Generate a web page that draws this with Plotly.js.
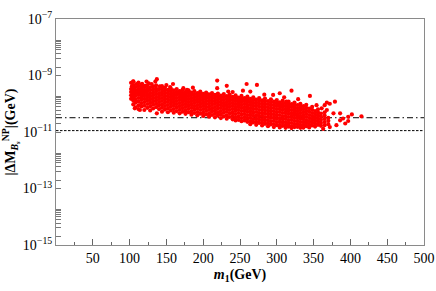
<!DOCTYPE html>
<html>
<head>
<meta charset="utf-8">
<script src="https://cdn.plot.ly/plotly-3.0.1.min.js"></script>
<style>html,body{margin:0;padding:0;background:#fff;}#chart{width:436px;height:291px;}</style>
</head>
<body>
<div id="chart"></div>
<script>
// ---- data ----
// dense band of scan points: m1 (GeV) columns and the |ΔM_Bs^NP| (GeV) values read in each column
const m1Columns = [102,105,108,112,116,120,124,128,132,136,140,144,148,152,156,160,164,168,172,176,180,184,188,192,196,200,204,208,212,216,220,224,228,232,236,240,244,248,252,256,260,264,268,272,276,280,284,288,292,296,300,304,308,312,316,320,324,328,332,336,340,344,348,352,356,360,365,370];
const dMColumns = [
 [5.5e-10,3.3e-10,2.6e-10,2.0e-10,1.5e-10],
 [6.2e-10,4.6e-10,3.6e-10,2.8e-10,2.2e-10,1.7e-10,1.3e-10,9.5e-11],
 [3.9e-10,3.0e-10,2.4e-10,1.9e-10,1.4e-10,1.1e-10,7.5e-11],
 [5.6e-10,4.3e-10,3.4e-10,2.7e-10,2.1e-10,1.6e-10,1.2e-10,8.8e-11,6.5e-11],
 [4.7e-10,3.7e-10,2.9e-10,2.3e-10,1.8e-10,1.4e-10,1.05e-10,8.0e-11],
 [4.0e-10,3.1e-10,2.5e-10,1.95e-10,1.5e-10,1.15e-10,8.5e-11,6.0e-11],
 [4.4e-10,3.4e-10,2.7e-10,2.1e-10,1.65e-10,1.3e-10,9.8e-11,7.2e-11],
 [3.8e-10,3.0e-10,2.3e-10,1.8e-10,1.4e-10,1.08e-10,8.2e-11,5.8e-11],
 [4.1e-10,3.2e-10,2.5e-10,2.0e-10,1.55e-10,1.2e-10,9.2e-11,6.8e-11],
 [4.5e-10,3.5e-10,2.8e-10,2.2e-10,1.7e-10,1.32e-10,1.0e-10,7.6e-11],
 [3.1e-10,2.4e-10,1.9e-10,1.48e-10,1.15e-10,8.8e-11,6.5e-11],
 [4.2e-10,3.3e-10,2.6e-10,2.05e-10,1.6e-10,1.25e-10,9.6e-11,7.2e-11,5.2e-11],
 [3.7e-10,2.9e-10,2.3e-10,1.8e-10,1.4e-10,1.08e-10,8.3e-11,6.2e-11],
 [3.1e-10,2.45e-10,1.92e-10,1.5e-10,1.17e-10,9.0e-11,6.8e-11,5.0e-11],
 [3.5e-10,2.75e-10,2.15e-10,1.7e-10,1.32e-10,1.02e-10,7.8e-11,5.8e-11],
 [3.0e-10,2.35e-10,1.85e-10,1.45e-10,1.12e-10,8.6e-11,6.5e-11,4.8e-11],
 [3.3e-10,2.6e-10,2.05e-10,1.6e-10,1.25e-10,9.7e-11,7.4e-11,5.5e-11],
 [2.8e-10,2.2e-10,1.75e-10,1.37e-10,1.06e-10,8.2e-11,6.1e-11,4.6e-11],
 [3.1e-10,2.45e-10,1.95e-10,1.52e-10,1.18e-10,9.1e-11,7.0e-11,5.2e-11],
 [2.65e-10,2.1e-10,1.65e-10,1.28e-10,1.0e-10,7.7e-11,5.8e-11,4.4e-11],
 [3.0e-10,2.35e-10,1.85e-10,1.45e-10,1.13e-10,8.7e-11,6.6e-11,5.0e-11],
 [2.5e-10,2.0e-10,1.55e-10,1.22e-10,9.4e-11,7.2e-11,5.4e-11,4.1e-11],
 [2.8e-10,2.2e-10,1.75e-10,1.37e-10,1.07e-10,8.2e-11,6.3e-11,4.7e-11],
 [2.4e-10,1.9e-10,1.48e-10,1.16e-10,8.9e-11,6.8e-11,5.1e-11,3.9e-11],
 [2.7e-10,2.1e-10,1.65e-10,1.3e-10,1.01e-10,7.8e-11,6.0e-11,4.5e-11],
 [2.25e-10,1.78e-10,1.4e-10,1.09e-10,8.4e-11,6.5e-11,4.9e-11,3.7e-11],
 [2.5e-10,2.0e-10,1.57e-10,1.23e-10,9.6e-11,7.4e-11,5.6e-11,4.2e-11],
 [2.15e-10,1.7e-10,1.33e-10,1.04e-10,8.0e-11,6.1e-11,4.6e-11,3.5e-11],
 [2.4e-10,1.9e-10,1.5e-10,1.17e-10,9.1e-11,7.0e-11,5.3e-11,4.0e-11],
 [2.05e-10,1.62e-10,1.27e-10,9.9e-11,7.6e-11,5.8e-11,4.4e-11,3.3e-11],
 [2.3e-10,1.8e-10,1.42e-10,1.11e-10,8.6e-11,6.6e-11,5.0e-11,3.8e-11],
 [1.95e-10,1.54e-10,1.2e-10,9.4e-11,7.2e-11,5.5e-11,4.2e-11,3.1e-11],
 [2.2e-10,1.72e-10,1.35e-10,1.05e-10,8.2e-11,6.3e-11,4.8e-11,3.6e-11],
 [1.85e-10,1.45e-10,1.13e-10,8.8e-11,6.8e-11,5.2e-11,3.9e-11,2.95e-11],
 [2.1e-10,1.65e-10,1.29e-10,1.0e-10,7.8e-11,6.0e-11,4.6e-11,3.4e-11],
 [1.75e-10,1.38e-10,1.08e-10,8.4e-11,6.5e-11,4.9e-11,3.7e-11,2.8e-11],
 [2.0e-10,1.57e-10,1.23e-10,9.6e-11,7.4e-11,5.7e-11,4.3e-11,3.25e-11,2.55e-11],
 [1.66e-10,1.3e-10,1.02e-10,7.9e-11,6.1e-11,4.7e-11,3.5e-11,2.7e-11],
 [1.9e-10,1.5e-10,1.18e-10,9.2e-11,7.1e-11,5.5e-11,4.15e-11,3.1e-11,2.4e-11],
 [1.58e-10,1.24e-10,9.7e-11,7.5e-11,5.8e-11,4.4e-11,3.35e-11,2.55e-11],
 [1.8e-10,1.42e-10,1.12e-10,8.7e-11,6.7e-11,5.2e-11,3.95e-11,3.0e-11,2.3e-11],
 [1.48e-10,1.16e-10,9.1e-11,7.0e-11,5.4e-11,4.1e-11,3.15e-11,2.4e-11,1.9e-11],
 [1.7e-10,1.34e-10,1.05e-10,8.2e-11,6.4e-11,4.9e-11,3.75e-11,2.85e-11,2.2e-11],
 [1.4e-10,1.1e-10,8.6e-11,6.6e-11,5.1e-11,3.9e-11,3.0e-11,2.3e-11,1.8e-11],
 [1.6e-10,1.27e-10,1.0e-10,7.8e-11,6.0e-11,4.65e-11,3.55e-11,2.7e-11,2.1e-11],
 [1.32e-10,1.04e-10,8.1e-11,6.3e-11,4.8e-11,3.7e-11,2.8e-11,2.15e-11,1.7e-11],
 [1.52e-10,1.2e-10,9.4e-11,7.3e-11,5.6e-11,4.35e-11,3.3e-11,2.55e-11,1.95e-11],
 [1.25e-10,9.8e-11,7.6e-11,5.9e-11,4.5e-11,3.45e-11,2.65e-11,2.05e-11,1.6e-11],
 [1.44e-10,1.13e-10,8.9e-11,6.9e-11,5.3e-11,4.1e-11,3.15e-11,2.4e-11,1.85e-11],
 [1.18e-10,9.2e-11,7.1e-11,5.5e-11,4.25e-11,3.25e-11,2.5e-11,1.92e-11,1.5e-11],
 [1.36e-10,1.07e-10,8.4e-11,6.5e-11,5.0e-11,3.85e-11,2.95e-11,2.25e-11,1.75e-11],
 [1.11e-10,8.7e-11,6.7e-11,5.2e-11,4.0e-11,3.05e-11,2.35e-11,1.8e-11,1.45e-11],
 [1.28e-10,1.0e-10,7.9e-11,6.1e-11,4.7e-11,3.6e-11,2.8e-11,2.15e-11,1.65e-11],
 [1.05e-10,8.2e-11,6.35e-11,4.9e-11,3.75e-11,2.9e-11,2.2e-11,1.7e-11,1.4e-11],
 [1.2e-10,9.4e-11,7.4e-11,5.7e-11,4.4e-11,3.4e-11,2.6e-11,2.0e-11,1.55e-11],
 [9.8e-11,7.7e-11,5.95e-11,4.6e-11,3.55e-11,2.7e-11,2.08e-11,1.6e-11,1.38e-11],
 [1.1e-10,8.7e-11,6.8e-11,5.3e-11,4.1e-11,3.15e-11,2.45e-11,1.9e-11,1.5e-11],
 [9.0e-11,7.0e-11,5.4e-11,4.2e-11,3.25e-11,2.5e-11,1.95e-11,1.52e-11],
 [1.0e-10,7.9e-11,6.2e-11,4.8e-11,3.7e-11,2.9e-11,2.25e-11,1.75e-11,1.4e-11],
 [8.2e-11,6.4e-11,5.0e-11,3.85e-11,3.0e-11,2.3e-11,1.8e-11,1.42e-11],
 [9.2e-11,7.2e-11,5.6e-11,4.35e-11,3.4e-11,2.6e-11,2.05e-11,1.6e-11],
 [6.7e-11,5.2e-11,4.0e-11,3.1e-11,2.4e-11,1.85e-11,1.45e-11],
 [7.8e-11,6.1e-11,4.7e-11,3.65e-11,2.85e-11,2.2e-11,1.7e-11],
 [5.5e-11,4.3e-11,3.35e-11,2.6e-11,2.0e-11,1.55e-11],
 [6.4e-11,5.0e-11,3.9e-11,3.0e-11,2.35e-11,1.8e-11],
 [4.5e-11,3.5e-11,2.7e-11,2.1e-11,1.65e-11],
 [5.0e-11,3.8e-11,2.9e-11,2.25e-11,1.75e-11],
 [3.2e-11,2.5e-11,1.9e-11]
];
// isolated scan points around the band
const m1Scattered = [105,109,103,121,123,130,137,135,141,159,155,173,178,182,168,196,207,219,219,232,259,273,254,264,234,304,320,295,345,329,368,313,354,379,365,361,386,377,390,402,415,397,386,393,381,372,363,397,372,368,114,107,137,150,186,240,283,310,126,117];
const dMScattered = [6.1e-10,5.0e-10,4.1e-10,4.3e-10,6.1e-10,5.0e-10,7.4e-10,6.1e-10,4.1e-10,5.0e-10,3.9e-10,3.55e-10,3.1e-10,2.5e-10,2.7e-10,2.35e-10,2.05e-10,6.6e-10,3.55e-10,4.3e-10,5.0e-10,4.65e-10,2.9e-10,2.7e-10,2.7e-10,2.35e-10,2.9e-10,2.05e-10,1.9e-10,1.45e-10,1.1e-10,1.2e-10,8.9e-11,1.18e-10,8.9e-11,6.9e-11,4.6e-11,4.6e-11,3.0e-11,4.2e-11,3.6e-11,2.45e-11,2.6e-11,2.0e-11,1.75e-11,1.5e-11,1.3e-11,3.45e-11,1.0e-10,6.0e-11,6.0e-11,6.9e-11,4.6e-11,4.6e-10,3.7e-10,2.6e-10,2.1e-10,1.7e-10,5.3e-10,5.1e-10];
// horizontal reference levels (GeV)
const lineM1 = [0, 500];
const dashDotLevel = 3.2e-11;
const dashedLevel = 1.12e-11;
// axis ticks
const xTickVals = [50,100,150,200,250,300,350,400,450,500];
const xMinorVals = [25,75,125,175,225,275,325,375,425,475];
const yTickVals = [1e-15,1e-13,1e-11,1e-9,1e-7];
const yTickText = ['10<sup>\u221215</sup>','10<sup>\u221213</sup>','10<sup>\u221211</sup>','10<sup>\u22129</sup>','10<sup>\u22127</sup>'];
// unlabeled tick clusters seen on the reference's y axis: k x base, k = 1..9
const yMinorDigits = [1,2,3,4,5,6,7,8,9];
const yMinorBases = [2e-15,2e-13,2e-11,2e-9];

// ---- build tick lists and traces ----
const yAllVals = yTickVals.slice(), yAllText = yTickText.slice();
yMinorBases.forEach(function(b){ yMinorDigits.forEach(function(k){ yAllVals.push(k*b); yAllText.push(''); }); });

const xs = [], ys = [];
m1Columns.forEach(function(m, i){ dMColumns[i].forEach(function(v){ xs.push(m); ys.push(v); }); });
m1Scattered.forEach(function(m, i){ xs.push(m); ys.push(dMScattered[i]); });

const traces = [
  {x: lineM1, y: [dashDotLevel, dashDotLevel], type:'scatter', mode:'lines',
   line:{color:'#000', width:1, dash:'6px,3px,1.5px,3px'}, hoverinfo:'skip'},
  {x: lineM1, y: [dashedLevel, dashedLevel], type:'scatter', mode:'lines',
   line:{color:'#000', width:1, dash:'2.5px,1.5px'}, hoverinfo:'skip'},
  {x: xs, y: ys, type:'scatter', mode:'markers',
   marker:{color:'#ff0000', size:4.2, line:{width:0}}}
];

const fam = '"Liberation Serif", "Times New Roman", serif';
const layout = {
  width:436, height:291,
  margin:{l:56, r:12, t:19, b:46},
  paper_bgcolor:'#fff', plot_bgcolor:'#fff',
  showlegend:false,
  font:{family:fam, color:'#000', size:14},
  xaxis:{
    range:[0,500], showgrid:false, zeroline:false,
    showline:true, linecolor:'#8a8a8a', linewidth:1, mirror:true,
    tickmode:'array', tickvals:xTickVals, ticks:'inside', ticklen:6, tickcolor:'#666', tickwidth:1,
    tickfont:{family:fam, size:14, color:'#000'},
    minor:{tickmode:'array', tickvals:xMinorVals, ticks:'inside', ticklen:3, tickcolor:'#666', tickwidth:1, showgrid:false},
    title:{text:'<b><i>m</i><sub>1</sub>(GeV)</b>', font:{family:fam, size:14, color:'#000'}, standoff:4}
  },
  yaxis:{
    type:'log', range:[-15,-7], showgrid:false, zeroline:false,
    showline:true, linecolor:'#8a8a8a', linewidth:1, mirror:true,
    tickmode:'array', tickvals:yAllVals, ticktext:yAllText, ticks:'inside', ticklen:5, tickcolor:'#777', tickwidth:1,
    tickfont:{family:fam, size:14, color:'#000'},
    title:{text:'<b>|\u0394M<sub><i>B<sub>s</sub></i></sub><sup>NP</sup>|(GeV)</b>', font:{family:fam, size:14, color:'#000'}, standoff:6}
  }
};

Plotly.newPlot('chart', traces, layout, {displayModeBar:false, staticPlot:true});
</script>
</body>
</html>
